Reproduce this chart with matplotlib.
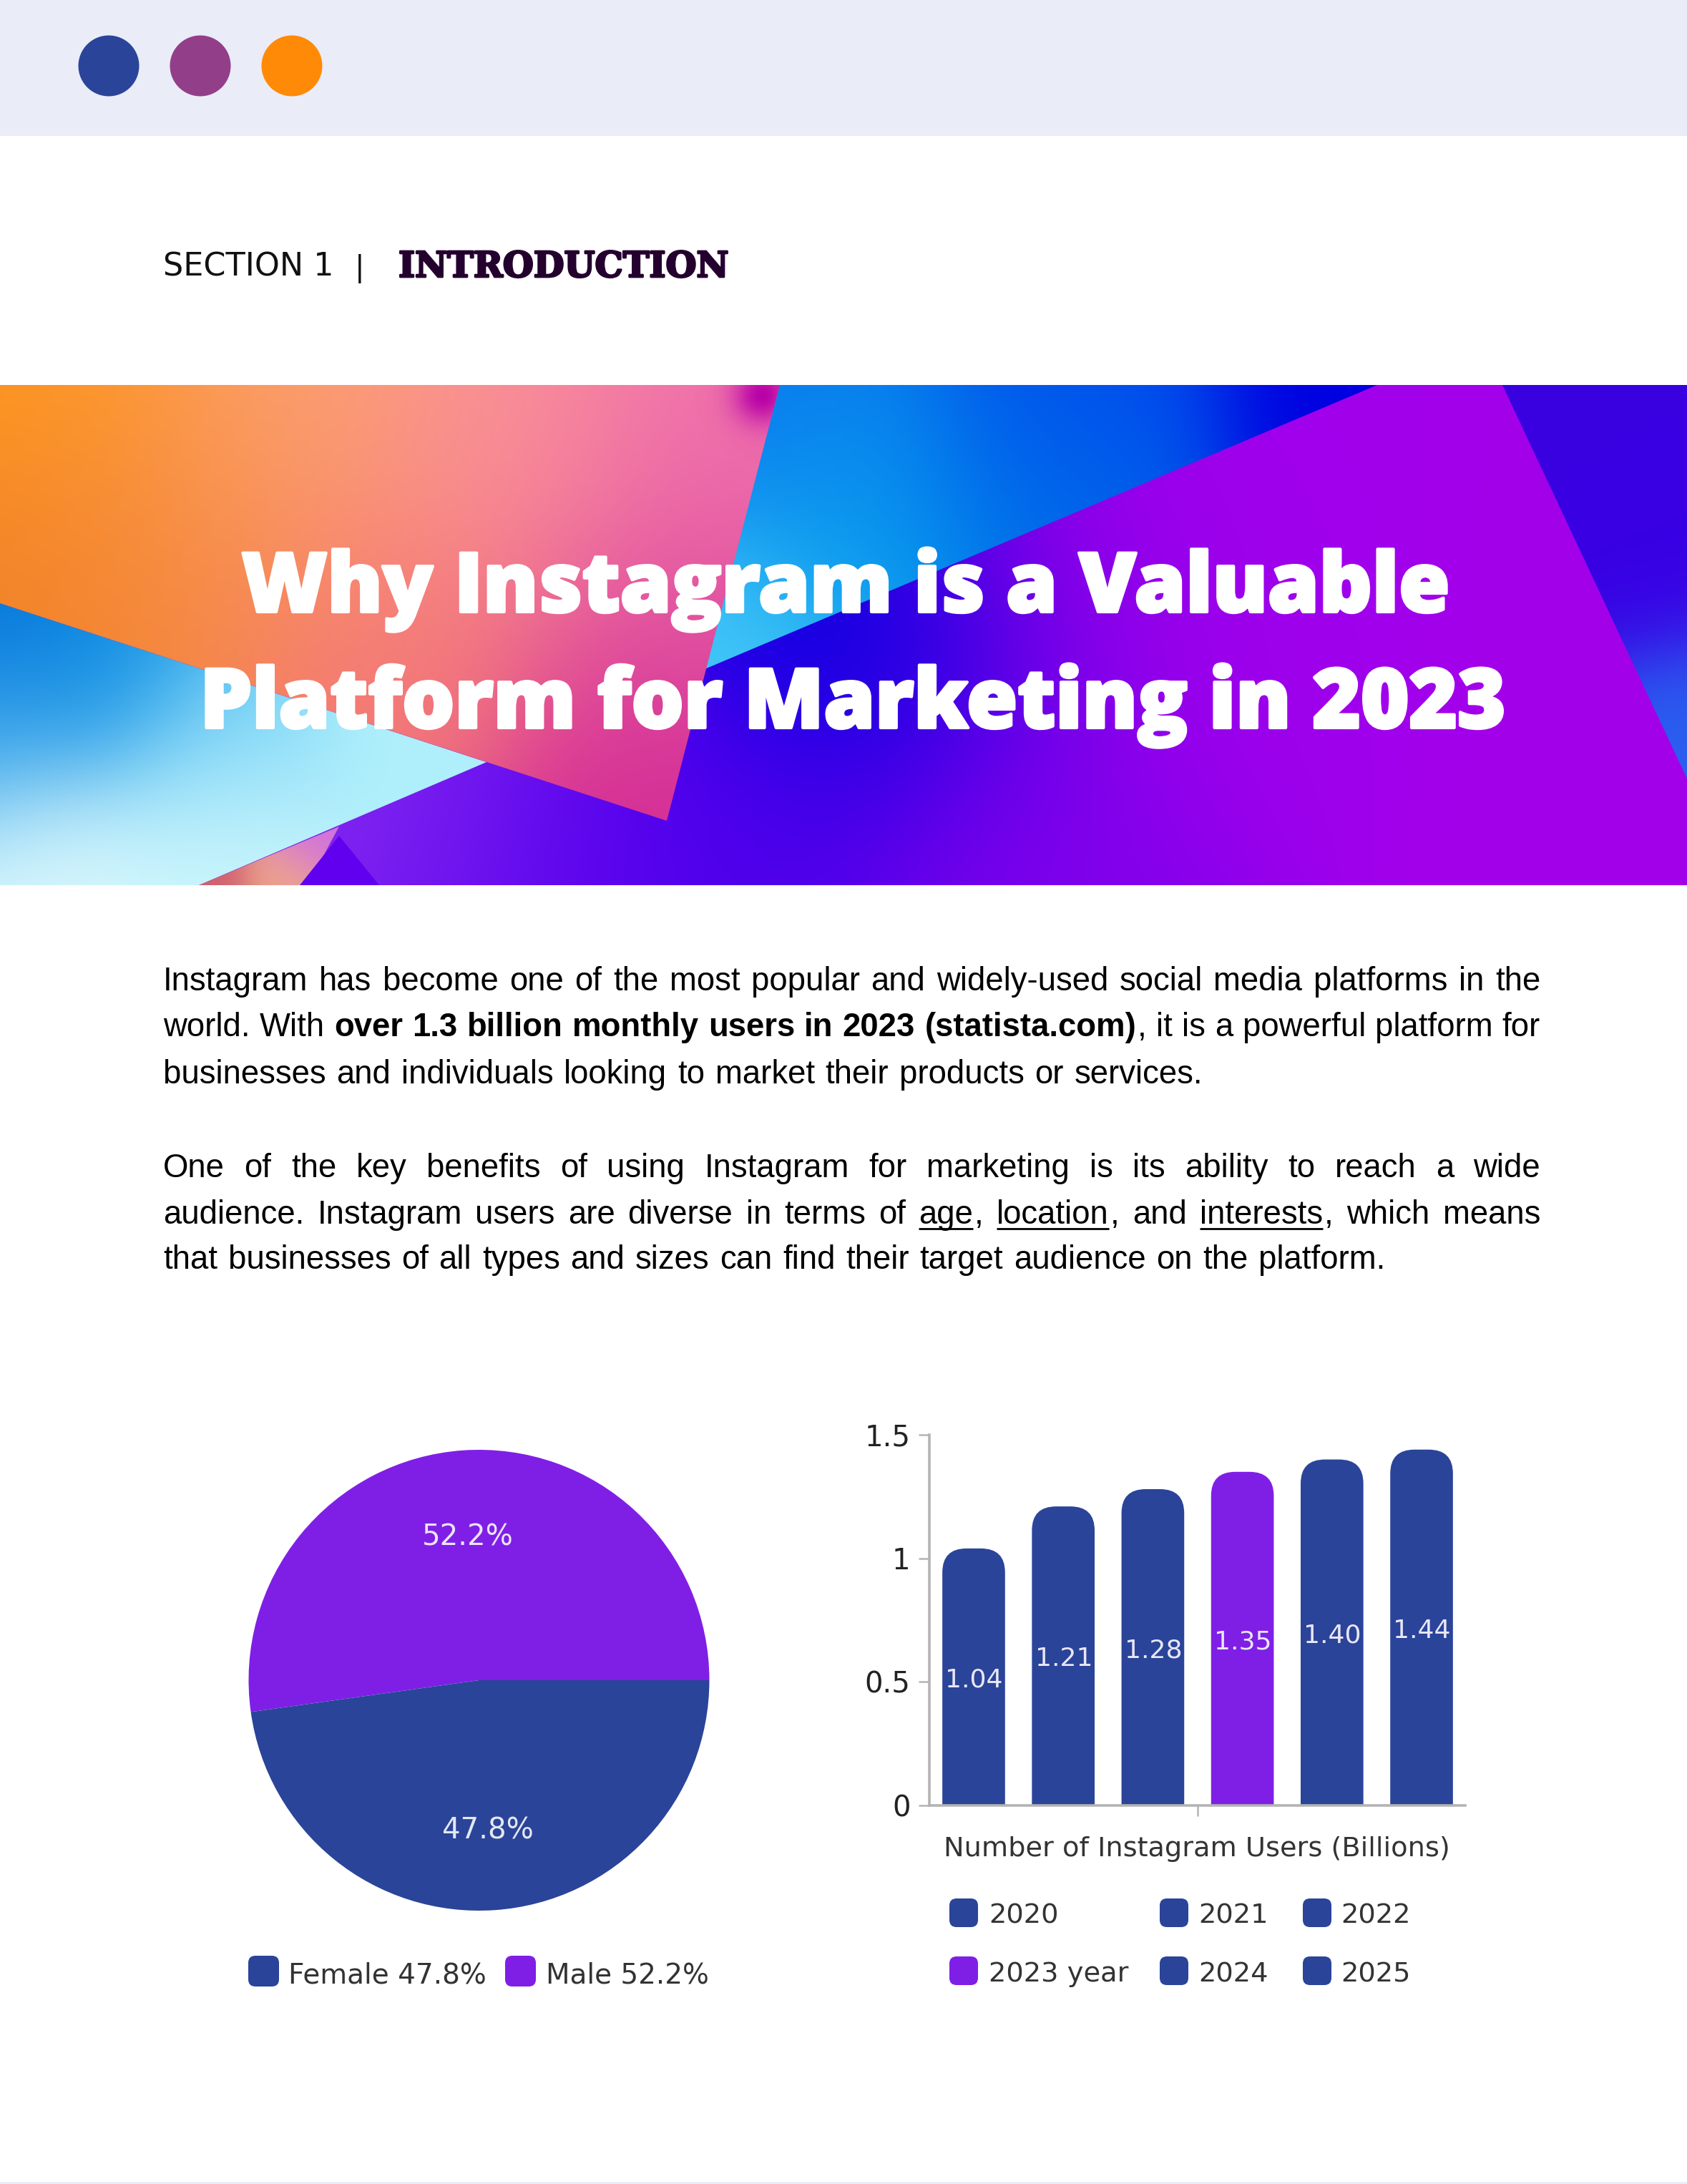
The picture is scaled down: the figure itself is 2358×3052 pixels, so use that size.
"""
Instagram marketing report page, drawn on one full page axes plus two chart axes
"""
import numpy as np
import matplotlib
matplotlib.use('Agg')
import matplotlib.pyplot as plt
from matplotlib.colors import to_rgb
from matplotlib.patches import Circle, FancyBboxPatch, Polygon, Rectangle
from matplotlib.patheffects import withStroke

# chart data
years = ['2020', '2021', '2022', '2023', '2024', '2025']
users = [1.04, 1.21, 1.28, 1.35, 1.40, 1.44]
bar_labels = ['1.04', '1.21', '1.28', '1.35', '1.40', '1.44']
legend_years = ['2020', '2021', '2022', '2023 year', '2024', '2025']
y_ticks = [0, 0.5, 1, 1.5]
y_tick_labels = ['0', '0.5', '1', '1.5']
genders = ['Male', 'Female']
shares = [52.2, 47.8]

title_lines = ['Why Instagram is a Valuable', 'Platform for Marketing in 2023']

# body text: runs of (text, style), r = regular, b = bold, u = underlined
body_lines = [
    [('Instagram has become one of the most popular and widely-used social media platforms in the', 'r')],
    [('world. With ', 'r'), ('over 1.3 billion monthly users in 2023 (statista.com)', 'b'), (', it is a powerful platform for', 'r')],
    [('businesses and individuals looking to market their products or services.', 'r')],
    [('One of the key benefits of using Instagram for marketing is its ability to reach a wide', 'r')],
    [('audience. Instagram users are diverse in terms of ', 'r'), ('age', 'u'), (', ', 'r'), ('location', 'u'),
     (', and ', 'r'), ('interests', 'u'), (', which means', 'r')],
    [('that businesses of all types and sizes can find their target audience on the platform.', 'r')],
]
body_baselines = [1384, 1448, 1514, 1645, 1710, 1773]
body_justified = [True, True, False, True, True, False]

BLUE = '#2A4499'
PURPLE = '#7F1FE6'
W, H = 2358, 3052
BODY_LEFT, BODY_RIGHT = 228, 2155
BODY_SIZE = 32.8
CHART_FONT = 'DejaVu Sans'

fig = plt.figure(figsize=(W / 100, H / 100), dpi=100, facecolor='white')
page = fig.add_axes([0, 0, 1, 1])
page.set_axis_off()


def gradient_poly(points, anchors, sigma=180):
    """Fill a polygon with a smooth colour field blended from (x, y, colour) anchors"""
    points = np.array(points, dtype=float)
    x0, y0 = points.min(axis=0)
    x1, y1 = points.max(axis=0)
    gx, gy = np.meshgrid(np.linspace(x0, x1, max(int((x1 - x0) / 5), 2)),
                         np.linspace(y0, y1, max(int((y1 - y0) / 5), 2)))
    total = np.zeros(gx.shape + (3,))
    weight = np.zeros(gx.shape)
    for ax_, ay_, colour in anchors:
        w = np.exp(-((gx - ax_) ** 2 + (gy - ay_) ** 2) / (2 * sigma ** 2))
        total += w[..., None] * np.array(to_rgb(colour))
        weight += w
    img = page.imshow(total / weight[..., None], extent=(x0, x1, y1, y0),
                      interpolation='bilinear', aspect='auto', zorder=1)
    clip = Polygon(points, closed=True, transform=page.transData, fill=False, edgecolor='none')
    page.add_patch(clip)
    img.set_clip_path(clip)


def glow(points, cx, cy, sigma, colour):
    """Soft colour spot inside a polygon"""
    points = np.array(points, dtype=float)
    x0, y0 = points.min(axis=0)
    x1, y1 = points.max(axis=0)
    gx, gy = np.meshgrid(np.linspace(x0, x1, 120), np.linspace(y0, y1, 120))
    rgba = np.zeros(gx.shape + (4,))
    rgba[..., :3] = to_rgb(colour)
    rgba[..., 3] = np.exp(-((gx - cx) ** 2 + (gy - cy) ** 2) / (2 * sigma ** 2))
    img = page.imshow(rgba, extent=(x0, x1, y1, y0), interpolation='bilinear', aspect='auto', zorder=1)
    clip = Polygon(points, closed=True, transform=page.transData, fill=False, edgecolor='none')
    page.add_patch(clip)
    img.set_clip_path(clip)


def justify_line(runs, baseline, justified):
    """Place one body line word by word so both edges sit on the margins"""
    words = [[]]
    for text, style in runs:
        parts = text.split(' ')
        for i, part in enumerate(parts):
            if i > 0:
                words.append([])
            if part:
                words[-1].append((part, style))
    words = [w for w in words if w]

    renderer = fig.canvas.get_renderer()
    placed = []
    total = 0
    for word in words:
        widths = []
        for part, style in word:
            t = page.text(0, baseline, part, fontsize=BODY_SIZE, family='Liberation Sans',
                          fontweight='bold' if style == 'b' else 'normal',
                          color='#000000', va='baseline', ha='left', zorder=5)
            widths.append(t.get_window_extent(renderer).width + 2)
            placed.append(t)
        total += sum(widths)
    gap = BODY_SIZE * 100 / 72 * 0.278
    if justified:
        gap = (BODY_RIGHT - BODY_LEFT - total) / (len(words) - 1)

    x = BODY_LEFT
    idx = 0
    for word in words:
        for part, style in word:
            t = placed[idx]
            idx += 1
            t.set_x(x)
            width = t.get_window_extent(renderer).width + 2
            if style == 'u':
                page.plot([x, x + width - 2], [baseline + 7, baseline + 7],
                          color='#000000', lw=2, solid_capstyle='butt', zorder=5)
            x += width
        x += gap


def swatch(x, y, w, h, colour):
    page.add_patch(FancyBboxPatch((x + 10, y + 10), w - 20, h - 20,
                                  boxstyle='round,pad=10,rounding_size=10',
                                  facecolor=colour, edgecolor='none', zorder=3))


# header band, dots and the thin line closing the page
page.add_patch(Rectangle((0, 0), W, 190, facecolor='#EAECF8', edgecolor='none', zorder=1))
page.add_patch(Rectangle((0, H - 3), W, 3, facecolor='#EAECF8', edgecolor='none', zorder=1))
for cx, colour in zip([152, 280, 408], ['#2A4499', '#933E89', '#FF8A08']):
    page.add_patch(Circle((cx, 92), 42.5, facecolor=colour, edgecolor='none', zorder=2))

# section line
page.text(228, 385, 'SECTION 1', fontsize=32, family='DejaVu Sans', color='#111111', va='baseline')
page.text(503, 386, '|', fontsize=29, family='DejaVu Sans', color='#111111', va='baseline', ha='center')
page.text(557, 387, 'INTRODUCTION', fontsize=35.5, family='DejaVu Serif', fontweight='bold',
          color='#24002E', va='baseline',
          path_effects=[withStroke(linewidth=2, foreground='#24002E')])

# banner panels
TOP, BOTTOM = 538, 1237
gradient_poly([(0, TOP), (W, TOP), (W, BOTTOM), (0, BOTTOM)],
              [(2250, 850, '#A400EA'), (1750, 620, '#A200EC'), (1233, 892, '#0000E0'),
               (1000, 1180, '#5000EC'), (1450, 1180, '#8000EC'), (2250, 1220, '#A400EA'),
               (1750, 950, '#A000EC'), (1500, 780, '#9400EA'), (720, 1190, '#5C00EE'),
               (540, 1130, '#8A30F0')], sigma=170)
gradient_poly([(1083, TOP), (1925, TOP), (985, 935)],
              [(1100, 550, '#0A78EE'), (1900, 540, '#0000E0'), (1500, 560, '#0048EE'),
               (1200, 720, '#08A0EE'), (1000, 925, '#45C8F8'), (1450, 680, '#0070E8')], sigma=130)
gradient_poly([(2100, TOP), (W, TOP), (W, 1088)],
              [(2150, 560, '#3A00E0'), (2300, 800, '#3800E4'), (2350, 1030, '#2A60F0')], sigma=90)
gradient_poly([(0, 843), (680, 1065), (278, BOTTOM), (0, BOTTOM)],
              [(0, 860, '#0070D8'), (160, 930, '#1090E4'), (0, 1020, '#3AA8EC'), (300, 1030, '#80D8F8'),
               (600, 1060, '#B0F0FC'), (60, 1190, '#DDF9FD'), (300, 1170, '#D0F8FC')], sigma=100)
gradient_poly([(474, 1155), (278, BOTTOM), (430, BOTTOM)],
              [(290, 1230, '#D06070'), (440, 1175, '#D070E0'), (400, 1230, '#F0A888')], sigma=40)
orange_poly = [(0, TOP), (1090, TOP), (932, 1147), (0, 843)]
gradient_poly(orange_poly,
              [(60, 560, '#FF9A20'), (0, 800, '#F08024'), (400, 600, '#FCA070'), (720, 620, '#FA9098'),
               (1020, 600, '#F070B0'), (960, 850, '#E050A0'),
               (930, 1120, '#D42C96'), (550, 900, '#F47A78'), (230, 780, '#F68A40')], sigma=150)
glow(orange_poly, 1070, 550, 28, '#B800A8')
page.add_patch(Polygon([(474, 1168), (419, BOTTOM), (530, BOTTOM)], facecolor='#6000EE',
                       edgecolor='none', zorder=2))

for line, base, cx in zip(title_lines, [855, 1017], [1182, 1192]):
    page.text(cx, base, line, fontsize=83, family='Open Sans', fontweight=800, color='white',
              ha='center', va='baseline', zorder=5,
              path_effects=[withStroke(linewidth=3, foreground='white')])

page.set_xlim(0, W)
page.set_ylim(H, 0)

# body text
fig.canvas.draw()
for runs, base, just in zip(body_lines, body_baselines, body_justified):
    justify_line(runs, base, just)

# pie chart
R = 322
CX, CY = 669.5, 2348
pie_ax = fig.add_axes([(CX - R) / W, 1 - (CY + R) / H, 2 * R / W, 2 * R / H])
pie_ax.pie(shares, colors=[PURPLE, BLUE], startangle=0, radius=1, center=(0, 0))
pie_ax.set_xlim(-1, 1)
pie_ax.set_ylim(-1, 1)
pie_ax.text((654 - CX) / R, (CY - 2148) / R, f'{shares[0]}%', fontsize=29, family=CHART_FONT,
            color='#EDE4FA', ha='center', va='center')
pie_ax.text((682 - CX) / R, (CY - 2558) / R, f'{shares[1]}%', fontsize=29, family=CHART_FONT,
            color='#E4E7F2', ha='center', va='center')

swatch(347, 2733, 43, 43, BLUE)
page.text(403, 2760, f'{genders[1]} {shares[1]}%', fontsize=28, family=CHART_FONT, color='#333333', va='center')
swatch(706, 2733, 43, 43, PURPLE)
page.text(763, 2760, f'{genders[0]} {shares[0]}%', fontsize=28, family=CHART_FONT, color='#333333', va='center')

# bar chart
AX_L, AX_R, AX_T, AX_B = 1299, 2048, 2005, 2523
bar_ax = fig.add_axes([AX_L / W, 1 - AX_B / H, (AX_R - AX_L) / W, (AX_B - AX_T) / H])
bar_ax.set_xlim(-0.495, 5.487)
bar_ax.set_ylim(0, 1.5)
bar_colors = [PURPLE if y == '2023' else BLUE for y in years]
for i, (val, colour, label) in enumerate(zip(users, bar_colors, bar_labels)):
    bar_ax.add_patch(FancyBboxPatch((i - 0.35, -0.2), 0.70, val + 0.2,
                                    boxstyle='round,pad=0,rounding_size=0.27',
                                    mutation_aspect=0.36, facecolor=colour, edgecolor='none'))
    bar_ax.text(i + 0.005, val / 2 - 0.012, label, fontsize=26, family=CHART_FONT, color='#E9E6F6',
                ha='center', va='center')
for side in ['top', 'right']:
    bar_ax.spines[side].set_visible(False)
for side in ['left', 'bottom']:
    bar_ax.spines[side].set_color('#B4B4B4')
    bar_ax.spines[side].set_linewidth(2.6)
bar_ax.set_yticks(y_ticks)
bar_ax.set_yticklabels(y_tick_labels, fontsize=29, family=CHART_FONT, color='#222222')
bar_ax.set_xticks([2.5])
bar_ax.set_xticklabels([''])
bar_ax.tick_params(axis='both', color='#B4B4B4', width=1.8, length=11, pad=8)
bar_ax.patch.set_alpha(0)

page.text(1673, 2584, 'Number of Instagram Users (Billions)', fontsize=27.5, family=CHART_FONT,
          color='#333333', ha='center', va='center')

swatch_x = [1327, 1621, 1821]
text_x = [1382, 1675, 1874]
for i, label in enumerate(legend_years):
    row, col = divmod(i, 3)
    y = 2653 + row * 81
    swatch(swatch_x[col], y, 40, 40, PURPLE if label.startswith('2023') else BLUE)
    page.text(text_x[col], y + 25, label, fontsize=27.6, family=CHART_FONT, color='#333333', va='center')

fig.savefig('out.png', dpi=100, facecolor='white')
plt.close(fig)
